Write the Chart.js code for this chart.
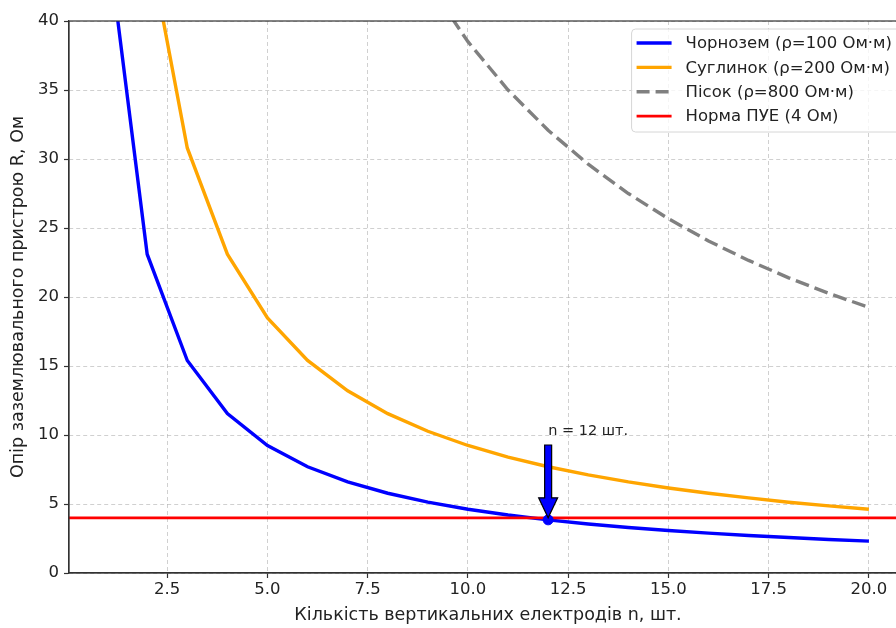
<!DOCTYPE html>
<html>
<head>
<meta charset="utf-8">
<script src="https://cdn.jsdelivr.net/npm/chart.js@4.4.1/dist/chart.umd.min.js"></script>
<style>
  html, body { margin: 0; padding: 0; background: #fff; overflow: hidden; }
  #wrap { width: 920px; height: 628px; position: relative; }
</style>
</head>
<body>
<div id="wrap"><canvas id="chart"></canvas></div>
<script>
// electrode count
var nValues = [1, 2, 3, 4, 5, 6, 7, 8, 9, 10, 11, 12, 13, 14, 15, 16, 17, 18, 19, 20];
// resistance per soil type, Ом
var chernozem = [46.2, 23.1, 15.4, 11.55, 9.24, 7.7, 6.6, 5.78, 5.13, 4.62, 4.2, 3.85, 3.55, 3.3, 3.08, 2.89, 2.72, 2.57, 2.43, 2.31];
var suglinok = [92.4, 46.2, 30.8, 23.1, 18.48, 15.4, 13.2, 11.55, 10.27, 9.24, 8.4, 7.7, 7.11, 6.6, 6.16, 5.78, 5.44, 5.13, 4.86, 4.62];
var pisok = [385, 192.5, 128.3, 96.25, 77, 64.17, 55, 48.13, 42.78, 38.5, 35, 32.08, 29.62, 27.5, 25.67, 24.06, 22.65, 21.39, 20.26, 19.25];
var normPUE = 4;
var xRange = [0.05, 20.95];
var yRange = [0, 40];
var xTicks = [2.5, 5, 7.5, 10, 12.5, 15, 17.5, 20];
var yTicks = [0, 5, 10, 15, 20, 25, 30, 35, 40];
// highlighted point and its label
var nOpt = 12;
var rOpt = 3.85;
var labelY = 10;
var labelText = 'n = 12 шт.';

var FONT = '"DejaVu Sans", sans-serif';
var TXT = '#222';

function pts(ys) {
    return ys.map(function (y, i) { return {x: nValues[i], y: y}; });
}

var datasets = [
    {label: 'Чорнозем (ρ=100 Ом·м)', data: pts(chernozem), borderColor: '#0000ff', borderWidth: 3.4, order: 5},
    {label: 'Суглинок (ρ=200 Ом·м)', data: pts(suglinok), borderColor: '#ffa500', borderWidth: 3.4, order: 4},
    {label: 'Пісок (ρ=800 Ом·м)', data: pts(pisok), borderColor: '#808080', borderWidth: 3.4, borderDash: [14, 6], order: 3},
    {label: 'Норма ПУЕ (4 Ом)', data: [{x: xRange[0], y: normPUE}, {x: xRange[1], y: normPUE}], borderColor: '#ff0000', borderWidth: 2.8, order: 2},
    {label: '', data: [{x: nOpt, y: rOpt}], showLine: false, pointRadius: 5, pointBackgroundColor: '#0000ff', pointBorderColor: '#0000ff', order: 1, noLegend: true}
];
datasets.forEach(function (d) {
    if (d.pointRadius === undefined) d.pointRadius = 0;
    d.fill = false;
    d.tension = 0;
});

var frameAndExtras = {
    id: 'frameAndExtras',
    afterDatasetsDraw: function (chart) {
        var c = chart.ctx;
        var xs = chart.scales.x, ys = chart.scales.y;
        // arrow to optimum
        var px = xs.getPixelForValue(nOpt);
        var y0 = ys.getPixelForValue(labelY) + 10;
        var y1 = ys.getPixelForValue(rOpt) - 2;
        var hw = 3.5, hh = 9.5, hl = 20;
        c.save();
        c.beginPath();
        c.moveTo(px - hw, y0);
        c.lineTo(px + hw, y0);
        c.lineTo(px + hw, y1 - hl);
        c.lineTo(px + hh, y1 - hl);
        c.lineTo(px, y1);
        c.lineTo(px - hh, y1 - hl);
        c.lineTo(px - hw, y1 - hl);
        c.closePath();
        c.fillStyle = '#0000ff';
        c.fill();
        c.lineWidth = 1.2;
        c.strokeStyle = '#000';
        c.stroke();
        c.fillStyle = TXT;
        c.font = '14.5px ' + FONT;
        c.textAlign = 'left';
        c.textBaseline = 'alphabetic';
        c.fillText(labelText, px, ys.getPixelForValue(labelY));
        c.restore();
    },
    afterDraw: function (chart) {
        var c = chart.ctx, a = chart.chartArea;
        c.save();
        // spines
        c.strokeStyle = '#333';
        c.lineWidth = 1.2;
        c.strokeRect(a.left, a.top, a.right - a.left, a.bottom - a.top);
        // legend
        c.font = '16.5px ' + FONT;
        var items = chart.data.datasets.filter(function (d) { return !d.noLegend; });
        var tw = 0;
        items.forEach(function (d) { tw = Math.max(tw, c.measureText(d.label).width); });
        var w = 54 + tw + 9, h = 103;
        var right = a.right - 6, top = a.top + 8, left = right - w;
        c.beginPath();
        c.roundRect(left, top, w, h, 4);
        c.fillStyle = 'rgba(255,255,255,0.8)';
        c.fill();
        c.strokeStyle = '#d6d6d6';
        c.lineWidth = 1;
        c.stroke();
        items.forEach(function (d, i) {
            var cy = top + 14 + i * 24.4;
            c.beginPath();
            c.setLineDash(d.borderDash ? [13, 6] : []);
            c.moveTo(left + 5, cy);
            c.lineTo(left + 40, cy);
            c.strokeStyle = d.borderColor;
            c.lineWidth = d.borderWidth;
            c.stroke();
            c.setLineDash([]);
            c.fillStyle = TXT;
            c.textAlign = 'left';
            c.textBaseline = 'middle';
            c.fillText(d.label, left + 54, cy + 1);
        });
        c.restore();
    }
};

var gridCommon = {
    color: 'rgba(170,170,170,0.55)',
    lineWidth: 1,
    tickColor: '#333',
    tickLength: 5,
    tickWidth: 1.2
};

new Chart(document.getElementById('chart'), {
    type: 'line',
    data: {datasets: datasets},
    plugins: [frameAndExtras],
    options: {
        responsive: true,
        maintainAspectRatio: false,
        animation: false,
        events: [],
        layout: {padding: {left: 2, right: 13, top: 21, bottom: 0}},
        plugins: {legend: {display: false}, tooltip: {enabled: false}},
        scales: {
            x: {
                type: 'linear',
                min: xRange[0],
                max: xRange[1],
                afterBuildTicks: function (s) { s.ticks = xTicks.map(function (v) { return {value: v}; }); },
                afterFit: function (s) { s.height = 55; },
                grid: gridCommon,
                border: {display: true, color: '#333', width: 1.2, dash: [4, 3]},
                ticks: {
                    color: TXT, font: {family: FONT, size: 16.5}, padding: 2, maxRotation: 0,
                    callback: function (v) { return Number(v).toFixed(1); }
                },
                title: {display: true, text: 'Кількість вертикальних електродів n, шт.', color: TXT,
                        font: {family: FONT, size: 17.5}, padding: {top: 2, bottom: 2}}
            },
            y: {
                min: yRange[0],
                max: yRange[1],
                afterBuildTicks: function (s) { s.ticks = yTicks.map(function (v) { return {value: v}; }); },
                afterFit: function (s) { s.width = 67; },
                grid: gridCommon,
                border: {display: true, color: '#333', width: 1.2, dash: [4, 3]},
                ticks: {color: TXT, font: {family: FONT, size: 16.5}, padding: 5},
                title: {display: true, text: 'Опір заземлювального пристрою R, Ом', color: TXT,
                        font: {family: FONT, size: 17.5}, padding: {top: 6, bottom: 4}}
            }
        }
    }
});
</script>
</body>
</html>
